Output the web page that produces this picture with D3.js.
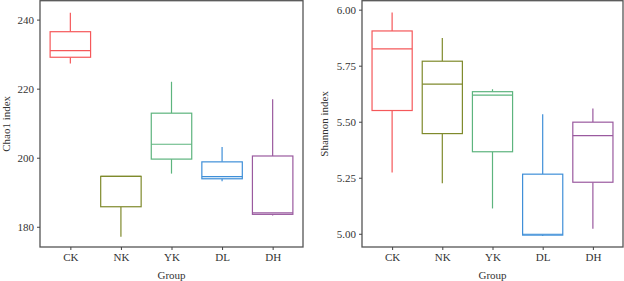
<!DOCTYPE html>
<html>
<head>
<meta charset="utf-8">
<script src="https://cdn.jsdelivr.net/npm/d3@7"></script>
<style>
  body { margin: 0; background: #fff; }
  svg { display: block; font-family: 'Liberation Serif', 'DejaVu Serif', serif; }
</style>
</head>
<body>
<div id="chart"></div>
<script>
const groups = ['CK', 'NK', 'YK', 'DL', 'DH'];
const groupColors = ['#f5585a', '#7f8a2c', '#5db47e', '#3f8fd8', '#9a5a9f'];

// Chao1 box stats
const chaoMin = [227.3, 177.1, 195.4, 193.2, 183.3];
const chaoQ1 = [229.1, 185.8, 199.6, 193.9, 183.6];
const chaoMed = [231.0, 194.6, 203.9, 194.5, 184.0];
const chaoQ3 = [236.5, 194.6, 212.9, 198.8, 200.5];
const chaoMax = [242.0, 194.6, 222.0, 203.1, 216.9];
const chaoTicks = [180, 200, 220, 240];

// Shannon box stats
const shanMin = [5.273, 5.226, 5.113, 4.990, 5.022];
const shanQ1 = [5.550, 5.447, 5.366, 4.994, 5.230];
const shanMed = [5.825, 5.668, 5.619, 4.998, 5.438];
const shanQ3 = [5.905, 5.770, 5.634, 5.266, 5.498];
const shanMax = [5.987, 5.874, 5.645, 5.533, 5.559];
const shanTicks = [5.00, 5.25, 5.50, 5.75, 6.00];

const width = 624, height = 281;
const svg = d3.select('#chart').append('svg')
  .attr('width', width)
  .attr('height', height);

const boxPanel = (opt) => {
  const { left, right, top, bottom, domain, ticks, fmt, title, titleX, stats } = opt;

  let x = d3.scalePoint()
    .domain(groups)
    .range([left, right])
    .padding(0.6);

  let y = d3.scaleLinear()
    .domain(domain)
    .range([bottom, top]);

  const g = svg.append('g');

  // panel frame
  g.append('rect')
    .attr('x', left).attr('y', top)
    .attr('width', right - left).attr('height', bottom - top)
    .attr('fill', 'none')
    .attr('stroke', '#555')
    .attr('stroke-width', 1.3);

  const rows = groups.map((d, i) => ({
    g: d, c: groupColors[i],
    min: stats[0][i], q1: stats[1][i], med: stats[2][i], q3: stats[3][i], max: stats[4][i]
  }));

  const bw = x.step() * 0.8;

  const box = g.selectAll('.box').data(rows).join('g')
    .attr('class', 'box')
    .attr('stroke', d => d.c)
    .attr('stroke-width', 1.2)
    .attr('fill', 'none');

  box.append('line')
    .attr('x1', d => x(d.g)).attr('x2', d => x(d.g))
    .attr('y1', d => y(d.max)).attr('y2', d => y(d.q3));
  box.append('line')
    .attr('x1', d => x(d.g)).attr('x2', d => x(d.g))
    .attr('y1', d => y(d.q1)).attr('y2', d => y(d.min));
  box.append('rect')
    .attr('x', d => x(d.g) - bw / 2)
    .attr('y', d => y(d.q3))
    .attr('width', bw)
    .attr('height', d => Math.max(0.5, y(d.q1) - y(d.q3)))
    .attr('fill', '#fff');
  box.append('line')
    .attr('x1', d => x(d.g) - bw / 2).attr('x2', d => x(d.g) + bw / 2)
    .attr('y1', d => y(d.med)).attr('y2', d => y(d.med));

  let yAxis = a => a
    .attr('transform', `translate(${left},0)`)
    .call(d3.axisLeft(y).tickValues(ticks).tickFormat(fmt).tickSize(3).tickPadding(3))
    .call(a => a.select('.domain').remove());

  let xAxis = a => a
    .attr('transform', `translate(0,${bottom})`)
    .call(d3.axisBottom(x).tickSize(3).tickPadding(3))
    .call(a => a.select('.domain').remove());

  [g.append('g').call(yAxis), g.append('g').call(xAxis)].forEach(a => {
    a.selectAll('line').attr('stroke', '#444');
    a.selectAll('text')
      .attr('fill', '#333')
      .style('font-size', '11px')
      .style('font-family', "'Liberation Serif', serif");
  });

  svg.append('text')
    .attr('transform', `translate(${titleX},${(top + bottom) / 2}) rotate(-90)`)
    .style('text-anchor', 'middle')
    .style('font-size', '11px')
    .attr('fill', '#333')
    .text(title);

  svg.append('text')
    .attr('x', (left + right) / 2)
    .attr('y', 279)
    .style('text-anchor', 'middle')
    .style('font-size', '11px')
    .attr('fill', '#333')
    .text('Group');
};

boxPanel({
  left: 40, right: 303, top: 0.7, bottom: 247,
  domain: [174.14, 245.48], ticks: chaoTicks, fmt: d3.format('d'),
  title: 'Chao1 index', titleX: 10,
  stats: [chaoMin, chaoQ1, chaoMed, chaoQ3, chaoMax]
});

boxPanel({
  left: 362, right: 623, top: 0.7, bottom: 247,
  domain: [4.941, 6.040], ticks: shanTicks, fmt: d3.format('.2f'),
  title: 'Shannon index', titleX: 328,
  stats: [shanMin, shanQ1, shanMed, shanQ3, shanMax]
});
</script>
</body>
</html>
